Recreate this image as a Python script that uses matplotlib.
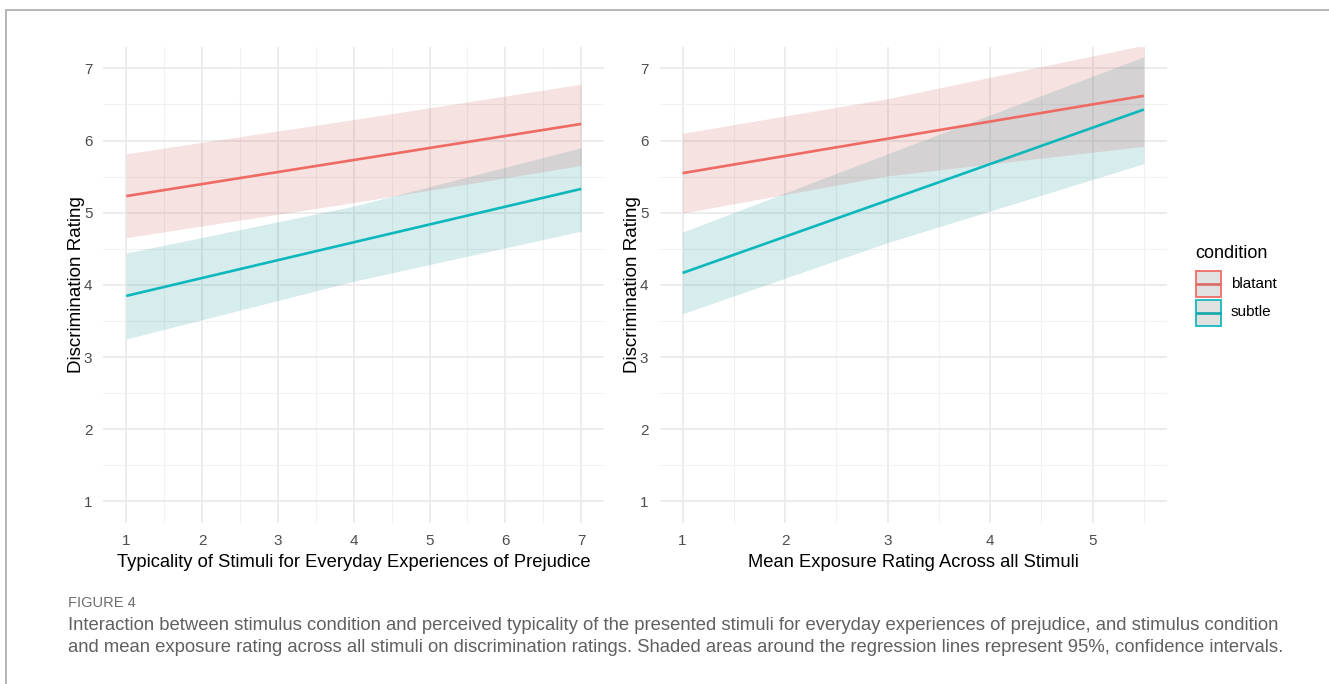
import matplotlib
matplotlib.use("Agg")
import matplotlib.pyplot as plt
from matplotlib.lines import Line2D
from matplotlib.patches import Rectangle

plt.rcParams['font.family'] = ['Liberation Sans', 'DejaVu Sans']

# ---------------- data ----------------
conditions = ["blatant", "subtle"]
line_colors = ["#EE6A62", "#0DB8BC"]
key_line_colors = ["#DA6A64", "#12A8AC"]
band_colors = ["#CE6E6C", "#32A0A5"]

left_x = [1, 4, 7]
left_blatant_fit = [5.23, 5.73, 6.23]
left_blatant_lo = [4.654, 5.14, 5.655]
left_blatant_hi = [5.816, 6.29, 6.78]
left_subtle_fit = [3.847, 4.59, 5.33]
left_subtle_lo = [3.25, 4.05, 4.745]
left_subtle_hi = [4.44, 5.09, 5.90]

right_x = [1, 3, 5.5]
right_blatant_fit = [5.548, 6.025, 6.62]
right_blatant_lo = [4.995, 5.51, 5.92]
right_blatant_hi = [6.10, 6.58, 7.32]
right_subtle_fit = [4.165, 5.17, 6.43]
right_subtle_lo = [3.60, 4.585, 5.68]
right_subtle_hi = [4.73, 5.816, 7.16]

left_xticks = [1, 2, 3, 4, 5, 6, 7]
right_xticks = [1, 2, 3, 4, 5]
yticks = [1, 2, 3, 4, 5, 6, 7]

left_xlabel = "Typicality of Stimuli for Everyday Experiences of Prejudice"
right_xlabel = "Mean Exposure Rating Across all Stimuli"
ylabel = "Discrimination Rating"
legend_title = "condition"
fig_label = "FIGURE 4"
caption_lines = [
    "Interaction between stimulus condition and perceived typicality of the presented stimuli for everyday experiences of prejudice, and stimulus condition",
    "and mean exposure rating across all stimuli on discrimination ratings. Shaded areas around the regression lines represent 95%, confidence intervals.",
]

# ---------------- figure ----------------
W, H = 1329, 684
fig = plt.figure(figsize=(W / 100, H / 100), dpi=100)


def px_axes(x0, x1, y0, y1):
    return fig.add_axes([x0 / W, 1 - y1 / H, (x1 - x0) / W, (y1 - y0) / H])


axL = px_axes(103.5, 604, 46.7, 523)
axR = px_axes(659.5, 1167, 46.7, 523)


def style(ax, xlim, xticks, minor_x, xlabel):
    ax.set_xlim(*xlim)
    ax.set_ylim(0.7, 7.3)
    ax.set_xticks(xticks)
    ax.set_xticks(minor_x, minor=True)
    ax.set_yticks(yticks)
    ax.set_yticks([1.5, 2.5, 3.5, 4.5, 5.5, 6.5], minor=True)
    ax.grid(which='major', color='#EBEBEB', linewidth=1.3, zorder=0)
    ax.grid(which='minor', color='#F1F1F1', linewidth=0.8, zorder=0)
    ax.set_axisbelow(True)
    for s in ax.spines.values():
        s.set_visible(False)
    ax.tick_params(which='both', length=0, labelsize=11, labelcolor='#4D4D4D', pad=8)
    ax.set_xlabel(xlabel, fontsize=13.2, labelpad=4, color='black')
    ax.set_ylabel(ylabel, fontsize=13.5, labelpad=-1, color='black')


style(axL, (0.7, 7.3), left_xticks, [1.5, 2.5, 3.5, 4.5, 5.5, 6.5], left_xlabel)
style(axR, (0.775, 5.725), right_xticks, [1.5, 2.5, 3.5, 4.5, 5.5], right_xlabel)

panels = [
    (axL, left_x, [(left_blatant_fit, left_blatant_lo, left_blatant_hi),
                   (left_subtle_fit, left_subtle_lo, left_subtle_hi)]),
    (axR, right_x, [(right_blatant_fit, right_blatant_lo, right_blatant_hi),
                    (right_subtle_fit, right_subtle_lo, right_subtle_hi)]),
]

for ax, xs, series in panels:
    # bands (subtle first, then blatant on top)
    for i in [1, 0]:
        fit, lo, hi = series[i]
        ax.fill_between(xs, lo, hi, color=band_colors[i], alpha=0.2, linewidth=0, zorder=2)
    for i in [0, 1]:
        fit, lo, hi = series[i]
        ax.plot(xs, fit, color=line_colors[i], linewidth=1.9, zorder=3, solid_capstyle='butt')

# ---------------- legend (manual) ----------------
fig.text(1195 / W, 1 - 254 / H, legend_title, fontsize=13, ha='left', va='center', color='black')
key_tops = [271, 299.5]
for i, name in enumerate(conditions):
    y0 = key_tops[i]
    fig.add_artist(Rectangle((1196 / W, 1 - (y0 + 26) / H), 24.5 / W, 26 / H,
                             transform=fig.transFigure, facecolor='#DEDEDE',
                             edgecolor=line_colors[i], linewidth=1.4, alpha=0.9))
    fig.add_artist(Line2D([1197 / W, 1219.5 / W], [1 - (y0 + 13) / H] * 2,
                          transform=fig.transFigure, color=key_line_colors[i], linewidth=1.9))
    fig.text(1231 / W, 1 - (y0 + 13) / H, name, fontsize=11, ha='left', va='center', color='black')

# ---------------- frame ----------------
fig.add_artist(Line2D([6 / W, 1.0], [1 - 9.5 / H] * 2, transform=fig.transFigure,
                      color='#B5B5B5', linewidth=1.4))
fig.add_artist(Line2D([6 / W] * 2, [1 - 9.5 / H, 0.0], transform=fig.transFigure,
                      color='#B5B5B5', linewidth=1.4))

# ---------------- caption ----------------
cap_font = ['Liberation Sans', 'DejaVu Sans']
fig.text(68 / W, 1 - 603 / H, fig_label, fontsize=10.5, ha='left', va='center',
         color='#6E6E6E', family=cap_font)
fig.text(68 / W, 1 - 625 / H, caption_lines[0], fontsize=13.35, ha='left', va='center',
         color='#606060', family=cap_font)
fig.text(68 / W, 1 - 648 / H, caption_lines[1], fontsize=13.35, ha='left', va='center',
         color='#606060', family=cap_font)

fig.savefig("out.png", dpi=100)
